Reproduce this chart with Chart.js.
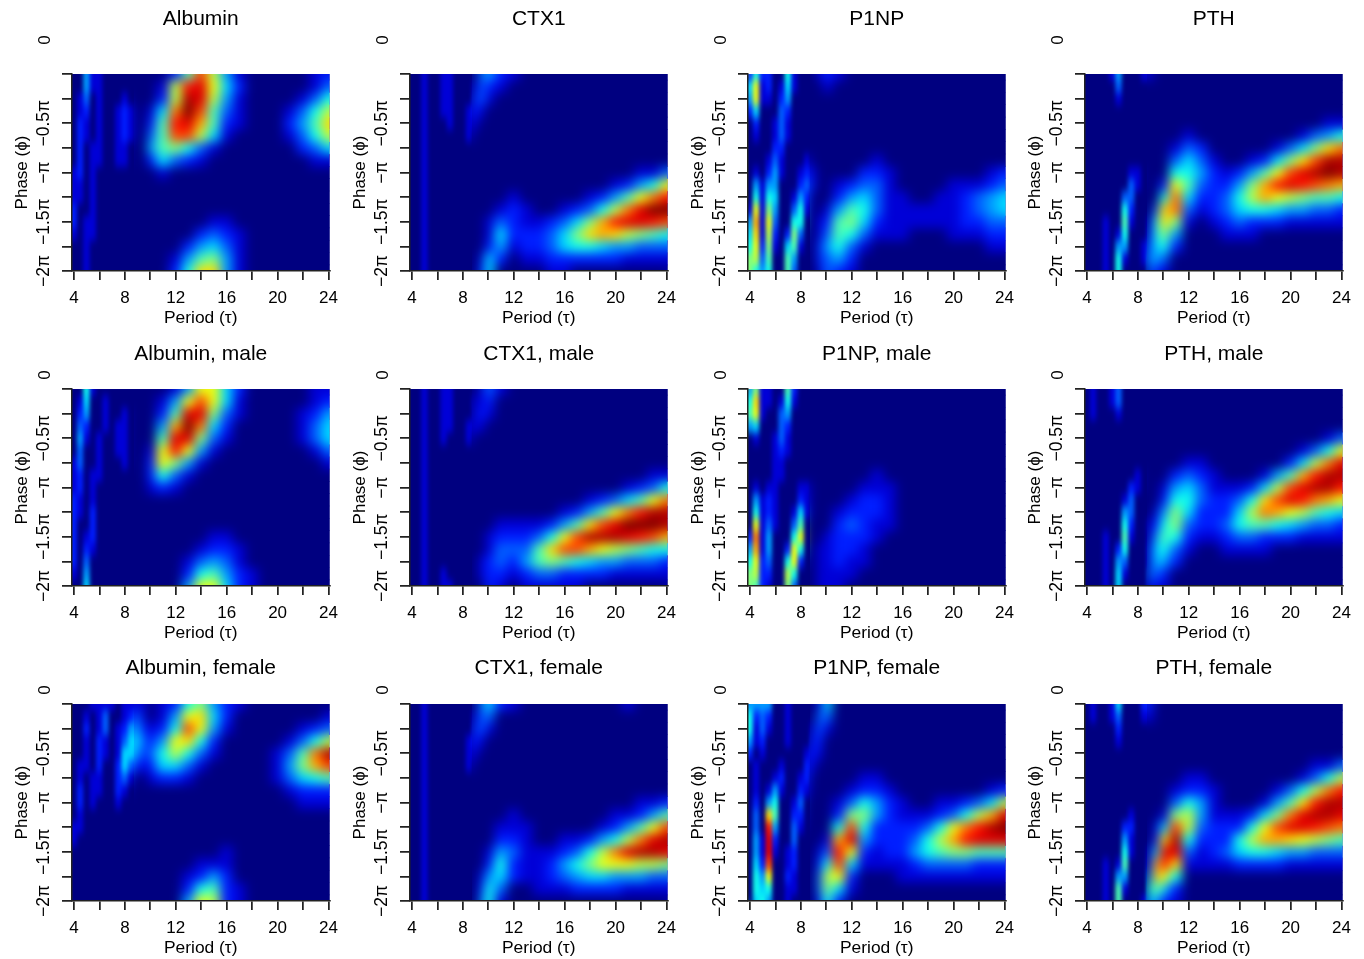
<!DOCTYPE html>
<html>
<head>
<meta charset="utf-8">
<script src="https://cdn.jsdelivr.net/npm/chart.js@4"></script>
<style>
  html, body { margin: 0; background: #fff; }
  body { position: relative; width: 1364px; height: 959px; overflow: hidden; }
  canvas { position: absolute; }
</style>
</head>
<body>
<script>
// cell centres
const periods = [4,4.5,5,5.5,6,6.5,7,7.5,8,8.5,9,9.5,10,11,12,13,14,15,16,17,18,19,20,21,22,23,24];
const phases = [0,-.125,-.25,-.375,-.5,-.625,-.75,-.875,-1,-1.125,-1.25,-1.375,-1.5,-1.625,-1.75,-1.875,-2];
const periodTicks = [4,6,8,10,12,14,16,18,20,22,24];
const periodLabels = ['4','8','12','16','20','24'];
const phaseLabels = { '-0.5': '−0.5π', '-1': '−π', '-1.5': '−1.5π', '-2': '−2π' };

const titles = ['Albumin','CTX1','P1NP','PTH','Albumin, male','CTX1, male','P1NP, male','PTH, male','Albumin, female','CTX1, female','P1NP, female','PTH, female'];

// values on a 0-9 colour scale, one row per phase, trailing zeros left out
const albuminAll = [
 [0,0,2,.5,.5,0,0,0,0,0,0,0,0, 0,1,3.5,7,4.5,2,.5,0,0,0,0,0,.5,1],
 [0,0,2,.5,.5,0,0,0,0,0,0,0,0, .5,4.5,7.5,8,5,2.5,1,0,0,0,0,0,.5,1.5],
 [0,.5,1.5,0,.5,0,0,0,.5,0,0,0,0, 1,4.5,8.5,8,4.5,2,.5,0,0,0,0,.5,1.5,3],
 [0,.5,1,0,.5,0,0,.5,1,.5,0,0,.5, 2.5,6.5,9,7,3.5,1.5,.5,0,0,0,.5,1.5,3,4.5],
 [0,1,.5,0,.5,0,0,.5,1,.5,0,0,1, 3.5,7.5,8,6,3.5,1,.5,0,0,0,1,2,3.5,5.5],
 [0,1,.5,0,.5,0,0,.5,1,.5,0,0,1.5, 3.5,7,7,4.5,2.5,.5,0,0,0,0,.5,1.5,3,4.5],
 [0,1,0,.5,.5,0,0,.5,.5,0,0,0,2, 3.5,4,3,1.5,.5,0,0,0,0,0,0,1,1.5,2.5],
 [0,1,0,.5,.5,0,0,.5,.5,0,0,0,1, 2.5,1.5,1,.5,0,0,0,0,0,0,0,0,.5,.5],
 [.5,1,0,.5,0,0,0,0,0,0,0,0,0, .5],
 [.5,.5,0,.5],
 [.5,.5,0,.5],
 [1,0,0,.5],
 [1,0,.5,.5,0,0,0,0,0,0,0,0,0, 0,0,0,0,.5,.5],
 [.5,0,.5,.5,0,0,0,0,0,0,0,0,0, 0,0,0,1,1.5,1,.5],
 [0,0,.5,0,0,0,0,0,0,0,0,0,0, 0,0,1,2,2.5,1.5,.5],
 [0,0,.5,0,0,0,0,0,0,0,0,0,0, 0,.5,2,3.5,4,2,.5],
 [0,0,.5,0,0,0,0,0,0,0,0,0,0, 0,1,3,5.5,5.5,2,.5]
];
const ctx1All = [
 [0,0,.5,0,0,.5,.5,0,0,0,0,1.5,2, 1,.5],
 [0,0,.5,0,0,.5,.5,0,0,0,.5,1.5,1, .5],
 [0,0,.5,0,0,.5,.5,0,0,0,1,1.5,.5],
 [0,0,.5,0,0,.5,.5,0,0,.5,1,.5],
 [0,0,.5,0,0,0,.5,0,0,.5,.5],
 [0,0,.5,0,0,0,0,0,0,.5],
 [0,0,.5],
 [0,0,.5],
 [0,0,.5,0,0,0,0,0,0,0,0,0,0, 0,0,0,0,0,0,0,0,0,0,0,.5,.5,1.5],
 [0,0,.5,0,0,0,0,0,0,0,0,0,0, 0,0,0,0,0,0,0,0,0,.5,1,2,3,5],
 [0,0,.5,0,0,0,0,0,0,0,0,0,0, 0,.5,0,0,0,0,0,.5,1,2,3.5,5,6.5,7.5],
 [0,0,.5,0,0,0,0,0,0,0,0,0,0, .5,1,.5,0,0,.5,1,1.5,3,4.5,6.5,8,9,9],
 [0,0,.5,0,0,0,0,0,0,0,0,0,.5, 1.5,1,.5,.5,1,1.5,2.5,4,6,7.5,8,8,7.5,7],
 [0,0,.5,0,0,0,0,0,0,0,0,0,.5, 2.5,1,1,1,1.5,2.5,4,5.5,6,5.5,4.5,4,3.5,3],
 [0,0,.5,0,0,0,0,0,0,0,0,0,1, 2,.5,1,1,1.5,2.5,3,3,2.5,2,2,1.5,1.5,1.5],
 [0,0,.5,0,0,0,0,0,0,0,0,.5,2.5, 1,0,.5,.5,1,1,1,1,1,1,.5,.5,.5,.5],
 [0,0,.5,0,0,0,0,0,0,0,0,1,2.5, 0,0,0,0,.5,.5]
];
const p1npAll = [
 [1,3,1,1,0,0,3,.5,0,0,0,.5,1, .5],
 [2.5,5,.5,1,0,.5,2.5,.5,0,0,0,0,.5],
 [2,5,.5,.5,0,1,2],
 [1,2.5,0,0,0,1.5,1],
 [0,1,0,0,.5,1.5,.5],
 [0,.5,0,0,.5,1.5,.5],
 [0,0,0,0,1,1],
 [0,0,0,.5,1.5,.5,0,0,0,.5,0,0,0, 0,0,0,.5],
 [0,.5,0,1,2,.5,0,0,.5,1,.5,0,0, 0,0,1,1,.5,0,0,0,0,0,0,0,.5,1],
 [0,2,.5,2,2,0,0,0,1,1.5,.5,0,0, .5,1,1.5,1.5,.5,0,0,0,0,.5,.5,.5,1,1.5],
 [0,3,.5,3,2.5,0,0,.5,2,1,0,0,0, 1,2,2.5,1.5,.5,.5,0,0,.5,.5,1,1.5,2,2.5],
 [.5,5,.5,4,2,0,0,1.5,3,.5,0,0,.5, 2,3.5,3,1.5,.5,.5,.5,.5,.5,.5,1,1.5,2,2.5],
 [2,6,.5,5,1.5,0,0,3,3,0,0,.5,1, 3.5,4,2.5,1,.5,.5,.5,.5,.5,.5,1,1,1.5,1.5],
 [2.5,5.5,.5,4.5,1,0,1,4,1.5,0,0,.5,1.5, 3.5,3,1.5,.5,.5,.5,0,0,0,.5,.5,.5,1,1],
 [3,5,1,4,.5,0,2.5,3.5,.5,0,0,1,2, 3,1.5,.5,0,0,0,0,0,0,0,0,0,.5,.5],
 [4,4.5,1.5,3.5,0,0,3.5,2,0,0,0,1,1.5, 2,1],
 [4,3,2,3,0,0,3.5,1.5,0,0,0,.5,1.5, 1,.5]
];
const pthAll = [
 [0,0,0,0,.5,2,0,0,0,.5,.5],
 [0,0,0,0,0,1.5],
 [0,0,0,0,0,.5],
 [0],
 [0,0,0,0,0,0,0,0,0,0,0,0,0, 0,0,0,0,0,0,0,0,0,0,0,0,.5,.5],
 [0,0,0,0,0,0,0,0,0,0,0,0,0, 0,.5,0,0,0,0,0,0,0,0,.5,1.5,2,3],
 [0,0,0,0,0,0,0,0,0,0,0,0,0, .5,1.5,1,0,0,0,0,0,.5,1.5,2.5,4,5.5,6.5],
 [0,0,0,0,0,0,0,0,0,0,0,0,0, 1.5,2.5,1.5,.5,0,0,.5,1,2.5,4,5.5,7,8.5,8.5],
 [0,0,0,0,0,0,0,.5,.5,0,0,0,0, 3,3,2,1,.5,1,2,3.5,5,7,8,8.5,9,8.5],
 [0,0,0,0,0,0,0,1.5,.5,0,0,0,1, 5,3.5,1.5,1,1,2,4,6,7.5,8,7.5,7,6.5,6],
 [0,0,0,0,0,0,1.5,1.5,0,0,0,0,3, 6.5,2.5,1,1,1.5,3,4.5,6,5,4.5,4,3.5,3.5,3],
 [0,0,0,0,0,0,3,1,0,0,0,1.5,5.5, 6.5,1.5,.5,1,1.5,2.5,3,3,2.5,2,2,1.5,1.5,1],
 [0,0,0,.5,0,0,3.5,.5,0,0,.5,3,5.5, 4,.5,0,.5,1,1.5,1,1,1,.5,.5,.5,.5,.5],
 [0,0,0,.5,0,.5,3,0,0,0,1,3,4, 2,0,0,0,.5,.5,.5],
 [0,0,0,.5,0,2,2,0,0,.5,1.5,2.5,3, 1],
 [0,0,0,.5,0,3,.5,0,0,.5,2,2,1.5],
 [0,0,0,.5,0,3,0,0,0,0,1.5,1,.5]
];
const albuminMale = [
 [0,0,3,.5,0,0,0,0,0,0,0,0,0, 0,.5,2,5,5,2.5,1,0,0,0,0,0,.5,.5],
 [0,.5,2.5,0,0,.5,0,0,0,0,0,0,0, .5,2,5,7,5,2.5,.5,0,0,0,0,0,.5,1],
 [0,1,2,0,0,.5,0,0,.5,0,0,0,0, 1,3.5,8,8,4,1.5,.5,0,0,0,0,.5,1,2],
 [0,1.5,1,0,0,.5,0,.5,.5,0,0,0,0, 2,6,9,6.5,2.5,1,0,0,0,0,0,.5,1.5,2.5],
 [0,2,.5,0,.5,0,0,.5,.5,0,0,0,0, 3.5,8,8,4,1.5,.5,0,0,0,0,0,.5,1.5,2.5],
 [0,1.5,0,0,.5,0,0,.5,.5,0,0,0,.5, 5,7.5,5,2,.5,0,0,0,0,0,0,0,.5,1.5],
 [.5,1.5,0,0,.5,0,0,0,.5,0,0,0,1, 5,4,2,.5,0,0,0,0,0,0,0,0,0,.5],
 [.5,1,0,.5,.5,0,0,0,0,0,0,0,1, 3,1.5,.5],
 [.5,1,0,.5,0,0,0,0,0,0,0,0,.5, 1,.5],
 [1,.5,0,.5],
 [1,.5,0,1],
 [1,0,0,1],
 [1,0,.5,1,0,0,0,0,0,0,0,0,0, 0,0,0,0,.5,.5],
 [1,0,1,.5,0,0,0,0,0,0,0,0,0, 0,0,0,.5,1,1,.5],
 [1,0,1.5,0,0,0,0,0,0,0,0,0,0, 0,0,.5,1.5,2,1.5,.5],
 [.5,0,2,0,0,0,0,0,0,0,0,0,0, 0,0,1,3,3.5,2,1,.5],
 [0,0,2.5,0,0,0,0,0,0,0,0,0,0, 0,0,2,5,5,2.5,1,.5]
];
const ctx1Male = [
 [0,0,.5,0,0,.5,.5,0,0,0,0,.5,1.5, .5],
 [0,0,.5,0,0,.5,.5,0,0,0,.5,.5,1],
 [0,0,.5,0,0,.5,.5,0,0,0,.5,1,.5],
 [0,0,.5,0,0,.5,.5,0,0,.5,.5,.5],
 [0,0,.5,0,0,.5,0,0,0,.5],
 [0,0,.5],
 [0,0,.5],
 [0,0,.5,0,0,0,0,0,0,0,0,0,0, 0,0,0,0,0,0,0,0,0,0,0,0,.5,.5],
 [0,0,.5,0,0,0,0,0,0,0,0,0,0, 0,0,0,0,0,0,0,0,0,0,.5,1,1.5,3],
 [0,0,.5,0,0,0,0,0,0,0,0,0,0, 0,0,0,0,0,0,0,.5,1,1.5,2.5,3.5,5,6.5],
 [0,0,.5,0,0,0,0,0,0,0,0,0,0, 0,0,0,0,0,.5,1,2,3.5,5,6.5,7.5,8.5,8.5],
 [0,0,.5,0,0,0,0,0,0,0,0,0,0, .5,.5,.5,.5,1,2,3.5,5.5,7,8,9,9,9,8.5],
 [0,0,.5,0,0,0,0,0,0,0,0,0,.5, 1,1,1,1.5,3,5,7,8.5,8.5,8.5,8,7.5,7,6],
 [0,0,.5,0,0,0,0,0,0,0,0,0,.5, 1.5,1.5,1.5,3.5,5.5,7,7,6,5,4.5,4,3.5,3,3],
 [0,0,.5,0,0,0,0,0,0,0,0,.5,1, 1.5,1,2,3.5,4,3.5,3,2.5,2,2,1.5,1.5,1.5,1],
 [0,0,.5,0,0,.5,0,0,0,0,0,.5,1, 1,.5,1,1.5,1.5,1,1,1,1,.5,.5,.5,.5,.5],
 [0,0,.5,0,0,.5,.5,0,0,0,0,0,1, .5,0,.5,.5,.5,.5,.5]
];
const p1npMale = [
 [2,4,.5,.5,0,0,3.5,1],
 [3,5.5,.5,.5,0,.5,3,.5],
 [3.5,5,.5,0,0,1.5,2],
 [2,2.5,0,0,0,1.5,1],
 [0,.5,0,0,.5,1.5,.5],
 [0,0,0,0,.5,1,.5],
 [0,0,0,0,.5,.5],
 [0,0,0,0,.5,.5,0,0,0,0,0,0,0, 0,0,0,.5],
 [0,.5,0,.5,.5,0,0,0,.5,.5,0,0,0, 0,0,.5,.5,.5],
 [0,2,.5,1,.5,0,0,0,1,.5,0,0,0, 0,.5,1,1,.5],
 [0,3,.5,1,.5,0,0,.5,2.5,.5,0,0,0, .5,1,1,1,.5],
 [0,5,.5,1.5,.5,0,0,1.5,3.5,0,0,0,0, 1,1.5,1,.5,.5],
 [1,6.5,.5,2,0,0,0,3,5,0,0,0,.5, 1,1,1,.5],
 [2,6,.5,2,0,0,1,5,3,0,0,.5,.5, 1,1,.5],
 [3,5,1,1.5,0,0,3,5,1,0,0,.5,.5, 1,.5,.5],
 [4,4.5,1,1,0,0,4.5,3,0,0,0,.5,.5, .5,.5],
 [4,3.5,1,.5,0,0,4,1.5,0,0,0,.5,.5, .5]
];
const pthMale = [
 [0,.5,0,0,.5,1.5],
 [0,.5,0,0,.5,1.5],
 [0,.5,0,0,0,.5],
 [0],
 [0,0,0,0,0,0,0,0,0,0,0,0,0, 0,0,0,0,0,0,0,0,0,0,0,0,.5,1.5],
 [0,0,0,0,0,0,0,0,0,0,0,0,0, 0,0,0,0,0,0,0,0,0,0,.5,1.5,3,5],
 [0,0,0,0,0,0,0,0,0,0,0,0,0, 0,.5,.5,0,0,0,0,0,0,1,2.5,4.5,6.5,8],
 [0,0,0,0,0,0,0,0,.5,0,0,0,0, 1,1.5,1,.5,0,0,0,.5,2,3.5,6,7.5,8.5,8.5],
 [0,0,0,0,0,0,0,1,.5,0,0,0,.5, 2,2.5,1.5,.5,.5,.5,1,2.5,4.5,7,8,8.5,8.5,7.5],
 [0,0,0,0,0,0,.5,1.5,0,0,0,0,1, 3,3,1.5,1,1,1.5,3,5.5,7,8,7.5,6.5,6,5],
 [0,0,0,0,0,0,2,1.5,0,0,0,.5,2, 4,2.5,1,1,1,2.5,4.5,6.5,6,5,4.5,3.5,3,2.5],
 [0,0,0,0,0,0,3,1,0,0,.5,1,3, 4,1.5,1,1,1.5,3,3.5,3.5,3,2.5,2,1.5,1.5,1],
 [0,0,0,.5,0,0,3.5,.5,0,0,.5,2,3.5, 3,1,.5,.5,1,1.5,1.5,1,1,1,.5,.5,.5,.5],
 [0,0,0,.5,0,1,3,0,0,0,1,2.5,3, 1.5,.5,0,0,.5,.5,.5,.5],
 [0,0,0,.5,0,2,1.5,0,0,0,1,2.5,2, 1],
 [0,0,0,.5,0,2.5,.5,0,0,0,1.5,1.5,1],
 [0,0,0,.5,0,2.5,0,0,0,0,1,.5,.5]
];
const albuminFemale = [
 [0,0,0,.5,.5,.5,.5,0,.5,.5,.5,.5,0, .5,1,3,4,2,1,.5],
 [0,0,.5,0,.5,1.5,0,0,.5,1,1.5,.5,0, .5,2,5,5.5,2.5,1,0,0,0,0,0,0,0,.5],
 [0,0,1,0,.5,1.5,0,.5,1,2,2,1,.5, 1,3,7,5,2,.5,0,0,0,0,0,.5,1,1.5],
 [0,0,.5,0,1,.5,0,.5,1.5,2.5,2.5,1.5,1, 2,5,5.5,3,1,0,0,0,0,0,.5,1.5,3,4.5],
 [0,0,.5,0,1,.5,0,.5,2.5,2.5,2,1,1.5, 3,4.5,3,1.5,.5,0,0,0,0,.5,1.5,3.5,6.5,8.5],
 [0,.5,.5,0,1,0,0,1,2.5,1.5,1,.5,1, 2.5,2.5,1.5,.5,0,0,0,0,0,.5,2,4,6,7],
 [0,.5,0,.5,.5,0,0,1,1.5,.5,0,0,.5, 1,1,.5,0,0,0,0,0,0,.5,1.5,2.5,3,3.5],
 [0,1,0,.5,.5,0,0,1,.5,0,0,0,0, 0,0,0,0,0,0,0,0,0,0,.5,1,1,1],
 [0,1,0,.5,0,0,0,.5,0,0,0,0,0, 0,0,0,0,0,0,0,0,0,0,0,.5,.5,.5],
 [0,.5],
 [.5,.5],
 [.5],
 [0,0,0,0,0,0,0,0,0,0,0,0,0, 0,0,0,0,0,.5],
 [0,0,0,0,0,0,0,0,0,0,0,0,0, 0,0,0,.5,.5,.5],
 [0,0,0,0,0,0,0,0,0,0,0,0,0, 0,0,.5,1,2,1],
 [0,0,0,0,0,0,0,0,0,0,0,0,0, 0,0,1,3,3.5,1,.5],
 [0,0,0,0,0,0,0,0,0,0,0,0,0, 0,0,2,5,4.5,1,.5]
];
const ctx1Female = [
 [0,0,.5,0,0,0,0,0,0,0,0,1.5,2.5, 1,.5,0,0,0,0,0,0,0,0,.5],
 [0,0,.5,0,0,0,0,0,0,0,.5,1.5,1.5],
 [0,0,.5,0,0,0,0,0,0,0,1,1.5,.5],
 [0,0,.5,0,0,0,0,0,0,.5,1,.5],
 [0,0,.5,0,0,0,0,0,0,.5,.5],
 [0,0,.5,0,0,0,0,0,0,.5],
 [0,0,.5],
 [0,0,.5],
 [0,0,.5,0,0,0,0,0,0,0,0,0,0, 0,0,0,0,0,0,0,0,0,0,0,.5,.5,1],
 [0,0,.5,0,0,0,0,0,0,0,0,0,0, 0,.5,0,0,0,0,0,0,0,.5,.5,1,2,3.5],
 [0,0,.5,0,0,0,0,0,0,0,0,0,0, .5,.5,.5,0,0,0,0,0,.5,1,2,3.5,5,7],
 [0,0,.5,0,0,0,0,0,0,0,0,0,0, 1,1,.5,0,0,.5,.5,1,2,3,4.5,6.5,8,8.5],
 [0,0,.5,0,0,0,0,0,0,0,0,0,.5, 2,1.5,.5,.5,.5,1,1.5,3,4.5,6.5,8,8.5,8.5,8],
 [0,0,.5,0,0,0,0,0,0,0,0,0,1, 3,1,.5,.5,1,2,3,4,5,5,5,4.5,4.5,4],
 [0,0,.5,0,0,0,0,0,0,0,0,.5,2, 2.5,1,.5,.5,1,1.5,2,2.5,2.5,2,2,2,1.5,1.5],
 [0,0,.5,0,0,0,0,0,0,0,0,1,3, 1.5,0,0,.5,.5,.5,1,1,1,1,.5,.5,.5,.5],
 [0,0,.5,0,0,0,0,0,0,0,0,1.5,3, .5]
];
const p1npFemale = [
 [2,2,2,2,0,0,.5,0,0,0,0,.5,2.5],
 [3,1,1.5,1,0,0,.5,0,0,0,0,1.5,1.5],
 [3,.5,1.5,.5,0,0,.5,0,0,0,.5,1.5,.5],
 [2,.5,1,0,0,0,.5,0,0,0,1,1],
 [1,0,.5,0,0,0,0,0,0,.5,1,.5],
 [0,.5,0,0,0,.5,0,0,0,1,.5],
 [0,.5,0,0,.5,1,0,0,.5,1,0,0,0, 0,0,.5,.5],
 [0,.5,0,.5,2,.5,0,0,1,.5,0,0,0, 0,.5,1,1,.5,0,0,0,0,0,0,0,.5,1],
 [0,1,0,2,3,0,0,.5,1.5,0,0,0,0, .5,1.5,3,2,1,.5,0,0,.5,.5,1,1.5,2.5,4.5],
 [0,1.5,0,5.5,3.5,0,0,1,1,0,0,0,0, 1,4,4,2,1,.5,.5,.5,1,1.5,3,4.5,6,8],
 [0,1.5,0,7.5,2,0,0,1.5,.5,0,0,0,0, 3,7,3,1,1,1,1,1.5,3,5,6.5,7.5,8.5,9],
 [0,2,.5,8,1,0,0,1.5,0,0,0,0,.5, 6,8,2,1,1,1,1.5,3,4.5,6,7.5,8,8,8],
 [0,2,.5,8,.5,0,.5,1,0,0,0,.5,1.5, 7.5,5,1,.5,1,1,2,3,3.5,4,4,3.5,3.5,3.5],
 [0,2.5,1,7,0,0,.5,1,0,0,0,1,3, 7,2.5,.5,.5,.5,.5,1,1.5,1.5,1.5,1.5,1,1,1],
 [0,3,2,5,0,0,1,.5,0,0,0,1.5,4.5, 5,1,0,0,0,.5,.5,.5,.5,.5,.5,.5,.5,.5],
 [0,3,2.5,3,0,0,.5,.5,0,0,0,1.5,4, 2.5,.5],
 [0,2.5,3,2,0,0,.5,0,0,0,0,1,3, 1]
];
const pthFemale = [
 [0,.5,0,0,.5,2.5,0,0,0,1,1],
 [0,.5,0,0,.5,1.5,0,0,0,.5,.5],
 [0,0,0,0,0,1],
 [0,0,0,0,0,.5],
 [0],
 [0,0,0,0,0,0,0,0,0,0,0,0,0, 0,0,0,0,0,0,0,0,0,0,0,.5,.5,1.5],
 [0,0,0,0,0,0,0,0,0,0,0,0,0, 0,.5,.5,0,0,0,0,0,0,0,.5,1.5,3,4.5],
 [0,0,0,0,0,0,0,0,0,0,0,0,0, .5,1,1,.5,0,0,0,0,.5,1.5,3,4.5,6.5,7.5],
 [0,0,0,0,0,0,0,0,0,0,0,0,0, 1.5,3,2,.5,0,0,0,.5,2,3.5,5.5,7.5,8.5,8.5],
 [0,0,0,0,0,0,0,.5,0,0,0,0,.5, 4,4.5,2,.5,.5,.5,1,2.5,4,6.5,8,8.5,8.5,8],
 [0,0,0,0,0,0,1,1,0,0,0,.5,2.5, 7,4.5,1.5,1,1,1,3,5,7,8,8,7.5,7,6.5],
 [0,0,0,0,0,0,2,.5,0,0,0,1,5.5, 8.5,3,1,1,1,3,4.5,6,6,5.5,5,4.5,4,3.5],
 [0,0,0,0,0,0,3,.5,0,0,.5,3,8, 8,1.5,.5,1,1.5,2.5,3,3,2.5,2,2,1.5,1.5,1.5],
 [0,0,0,.5,0,.5,3.5,0,0,0,1,5.5,7.5, 5.5,.5,.5,.5,.5,1,1,1,1,.5,.5,.5,.5,.5],
 [0,0,0,.5,0,2,2,0,0,0,2,6,5, 3],
 [0,0,0,.5,0,3.5,.5,0,0,0,3,4,2.5, 1],
 [0,0,0,.5,0,3.5,0,0,0,.5,2.5,2,1, .5]
];

const panelData = [albuminAll, ctx1All, p1npAll, pthAll, albuminMale, ctx1Male, p1npMale, pthMale, albuminFemale, ctx1Female, p1npFemale, pthFemale];

const canvasLefts = [0, 338, 676, 1013];
const canvasTops = [0, 315, 630];
const titleTops = [7, 27, 26];
const zeroYs = [40, 60, 60];
const FONT = '"Liberation Sans", Arial, sans-serif';
const AXIS = '#222';

function jet(v) {
  const t = Math.pow(Math.min(v / 9, 1), 0.85);
  const ch = x => Math.round(255 * Math.max(0, Math.min(1, x)));
  return `rgb(${ch(1.5 - Math.abs(4 * t - 3))},${ch(1.5 - Math.abs(4 * t - 2))},${ch(1.5 - Math.abs(4 * t - 1))})`;
}

function makeCanvas(w, h) {
  const c = document.createElement('canvas');
  c.width = w;
  c.height = h;
  return c;
}

// soften a copy of the plot area, stretched sx times wide so the blur is narrower across x
function softened(src, w, h, sx, sigma) {
  const pad = sigma * 4;
  const W = w * sx + 2 * pad, H = h + 2 * pad;
  const a = makeCanvas(W, H);
  const actx = a.getContext('2d');
  actx.imageSmoothingEnabled = false;
  actx.drawImage(src, 0, 0, W, H);
  // repeat the edge pixels outward so the blur does not pull in anything else
  actx.drawImage(src, 0, 0, 1, h, 0, pad, pad, h);
  actx.drawImage(src, w - 1, 0, 1, h, W - pad, pad, pad, h);
  actx.drawImage(src, 0, 0, w, 1, pad, 0, w * sx, pad);
  actx.drawImage(src, 0, h - 1, w, 1, pad, H - pad, w * sx, pad);
  actx.drawImage(src, pad, pad, w * sx, h);
  const b = makeCanvas(W, H);
  const bctx = b.getContext('2d');
  bctx.filter = `blur(${sigma}px)`;
  bctx.drawImage(a, 0, 0);
  return { canvas: b, pad };
}

const smoothCells = {
  id: 'smoothCells',
  beforeDatasetsDraw(chart) {
    const { ctx, chartArea: a } = chart;
    ctx.save();
    ctx.fillStyle = jet(0);
    ctx.fillRect(a.left, a.top, a.right - a.left, a.bottom - a.top);
    ctx.restore();
  },
  afterDatasetsDraw(chart) {
    const { ctx, chartArea: a, scales } = chart;
    const w = a.right - a.left, h = a.bottom - a.top;
    const src = makeCanvas(w, h);
    src.getContext('2d').drawImage(chart.canvas, a.left, a.top, w, h, 0, 0, w, h);
    const split = Math.round(scales.x.getPixelForValue(8.75));
    const fine = softened(src, w, h, 2, 4.5);
    const wide = softened(src, w, h, 1, 5.5);
    ctx.save();
    ctx.beginPath();
    ctx.rect(a.left, a.top, split - a.left, h);
    ctx.clip();
    ctx.drawImage(fine.canvas, fine.pad, fine.pad, w * 2, h, a.left, a.top, w, h);
    ctx.restore();
    ctx.save();
    ctx.beginPath();
    ctx.rect(split, a.top, a.right - split, h);
    ctx.clip();
    ctx.drawImage(wide.canvas, wide.pad, wide.pad, w, h, a.left, a.top, w, h);
    ctx.restore();
  }
};

// the 0 label sits well above its tick in the original
const zeroLabel = {
  id: 'zeroLabel',
  afterDraw(chart, args, opts) {
    const ctx = chart.ctx;
    ctx.save();
    ctx.translate(45, opts.y);
    ctx.rotate(-Math.PI / 2);
    ctx.font = `17px ${FONT}`;
    ctx.fillStyle = '#000';
    ctx.textAlign = 'center';
    ctx.textBaseline = 'middle';
    ctx.fillText('0', 0, 0);
    ctx.restore();
  }
};

titles.forEach((title, i) => {
  const col = i % 4, row = Math.floor(i / 4);
  const canvas = document.createElement('canvas');
  canvas.width = 346;
  canvas.height = 329;
  canvas.style.left = canvasLefts[col] + 'px';
  canvas.style.top = canvasTops[row] + 'px';
  document.body.appendChild(canvas);

  const datasets = phases.map((phase, r) => ({
    label: 'phase ' + phase,
    data: periods.map(p => ({ x: p, y: [phase - 0.0625, phase + 0.0625] })),
    backgroundColor: periods.map((p, c) => jet(panelData[i][r][c] || 0)),
    borderWidth: 0,
    stack: 'cells',
    barThickness: 'flex',
    categoryPercentage: 1,
    barPercentage: 1
  }));

  new Chart(canvas, {
    type: 'bar',
    data: { datasets },
    plugins: [smoothCells, zeroLabel],
    options: {
      responsive: false,
      animation: false,
      devicePixelRatio: 1,
      events: [],
      layout: { autoPadding: false, padding: 0 },
      plugins: {
        legend: { display: false },
        tooltip: { enabled: false },
        zeroLabel: { y: zeroYs[row] },
        title: {
          display: true,
          text: title,
          fullSize: false,
          color: '#000',
          font: { family: FONT, size: 21, weight: 'normal', lineHeight: 24 / 21 },
          padding: { top: titleTops[row], bottom: 74 - titleTops[row] - 24 }
        }
      },
      scales: {
        x: {
          type: 'linear',
          min: 3.84,
          max: 24.08,
          offset: false,
          afterBuildTicks: s => { s.ticks = periodTicks.map(v => ({ value: v })); },
          afterFit: s => { s.height = 58; },
          grid: { offset: false, drawOnChartArea: false, color: AXIS, lineWidth: 1.75, tickLength: 9 },
          border: { color: AXIS, width: 1.5, z: 1 },
          ticks: {
            autoSkip: false,
            maxRotation: 0,
            padding: 8,
            color: '#000',
            font: { family: FONT, size: 17 },
            callback: v => periodLabels.includes(String(v)) ? String(v) : ''
          },
          title: {
            display: true,
            text: 'Period (τ)',
            color: '#000',
            font: { family: FONT, size: 17.4 },
            padding: { top: 0, bottom: 0 }
          }
        },
        y: {
          type: 'linear',
          min: -2,
          max: 0,
          stacked: false,
          afterBuildTicks: s => { s.ticks = phases.filter((p, k) => k % 2 === 0).map(v => ({ value: v })); },
          afterFit: s => { s.width = 72; },
          grid: { drawOnChartArea: false, color: AXIS, lineWidth: 1.75, tickLength: 10 },
          border: { color: AXIS, width: 1.5, z: 1 },
          ticks: {
            autoSkip: false,
            minRotation: 90,
            maxRotation: 90,
            crossAlign: 'center',
            padding: -5,
            color: '#000',
            font: { family: FONT, size: 17.5 },
            callback: v => phaseLabels[String(v)] || ''
          },
          title: {
            display: true,
            text: 'Phase (ϕ)',
            color: '#000',
            font: { family: FONT, size: 17 },
            padding: { top: 12, bottom: 0 }
          }
        }
      }
    }
  });
});
</script>
</body>
</html>
